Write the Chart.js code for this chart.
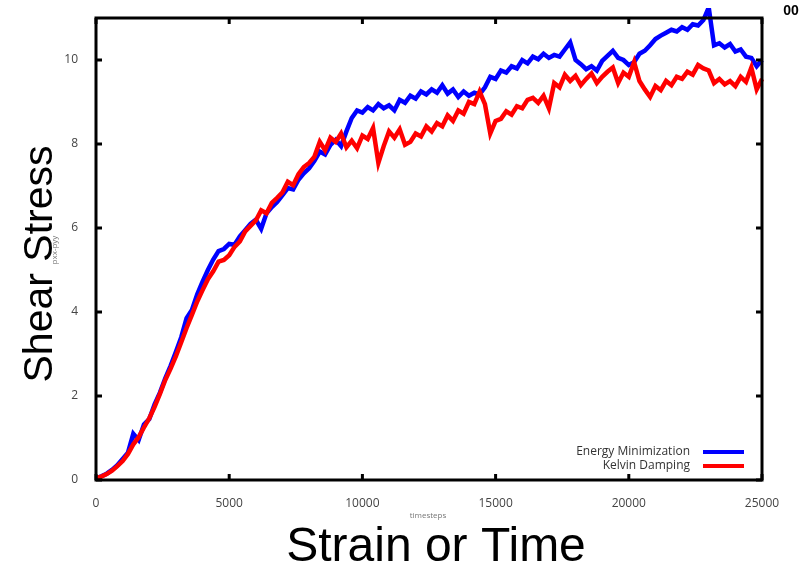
<!DOCTYPE html>
<html>
<head>
<meta charset="utf-8">
<script src="https://cdn.jsdelivr.net/npm/chart.js@4"></script>
<style>
body{margin:0;background:#fff}
canvas{display:block}
</style>
</head>
<body>
<canvas id="chart" width="806" height="568"></canvas>
<script>
const xTicks = [0, 5000, 10000, 15000, 20000, 25000];
const yTicks = [0, 2, 4, 6, 8, 10];
const seriesNames = ['Energy Minimization', 'Kelvin Damping'];
const seriesColors = ['#0000ff', '#ff0000'];

const energyMin = [
  0.04, 0.09, 0.15, 0.24, 0.35, 0.50, 0.65, 1.10, 0.95, 1.32,
  1.45, 1.80, 2.08, 2.42, 2.72, 3.05, 3.40, 3.85, 4.05, 4.42,
  4.72, 5.00, 5.25, 5.45, 5.50, 5.62, 5.60, 5.80, 5.95, 6.10,
  6.20, 5.98, 6.35, 6.50, 6.62, 6.78, 6.95, 6.92, 7.15, 7.30,
  7.42, 7.60, 7.82, 7.75, 7.98, 8.10, 7.95, 8.30, 8.62, 8.80,
  8.75, 8.88, 8.80, 8.95, 8.85, 8.92, 8.80, 9.05, 8.98, 9.15,
  9.08, 9.25, 9.18, 9.30, 9.22, 9.40, 9.20, 9.30, 9.12, 9.25,
  9.15, 9.22, 9.18, 9.35, 9.60, 9.55, 9.75, 9.70, 9.85, 9.80,
  10.00, 9.92, 10.08, 10.02, 10.15, 10.05, 10.12, 10.08, 10.25, 10.42,
  10.00, 9.90, 9.78, 9.85, 9.75, 9.98, 10.10, 10.22, 10.05, 10.00,
  9.88, 9.95, 10.15, 10.22, 10.35, 10.50, 10.58, 10.65, 10.72, 10.68,
  10.78, 10.72, 10.85, 10.82, 10.95, 11.25, 10.35, 10.40, 10.30, 10.38,
  10.20, 10.25, 10.08, 10.05, 9.85, 10.00
];
const kelvin = [
  0.05, 0.08, 0.14, 0.22, 0.33, 0.45, 0.62, 0.85, 1.02, 1.25,
  1.47, 1.74, 2.05, 2.38, 2.65, 2.95, 3.28, 3.62, 3.93, 4.25,
  4.52, 4.78, 4.97, 5.20, 5.24, 5.35, 5.55, 5.68, 5.92, 6.05,
  6.18, 6.42, 6.35, 6.60, 6.72, 6.85, 7.10, 7.02, 7.28, 7.45,
  7.55, 7.70, 8.05, 7.85, 8.15, 8.05, 8.25, 7.92, 8.08, 7.90,
  8.20, 8.12, 8.38, 7.55, 7.95, 8.30, 8.15, 8.35, 7.98, 8.05,
  8.25, 8.18, 8.42, 8.30, 8.50, 8.42, 8.68, 8.55, 8.80, 8.72,
  9.00, 8.95, 9.25, 8.95, 8.25, 8.55, 8.60, 8.78, 8.70, 8.90,
  8.85, 9.05, 9.10, 8.98, 9.15, 8.85, 9.45, 9.35, 9.65, 9.50,
  9.62, 9.40, 9.55, 9.68, 9.45, 9.60, 9.72, 9.82, 9.45, 9.70,
  9.60, 9.95, 9.50, 9.30, 9.12, 9.38, 9.28, 9.50, 9.40, 9.60,
  9.55, 9.72, 9.65, 9.88, 9.80, 9.75, 9.45, 9.55, 9.42, 9.50,
  9.38, 9.60, 9.48, 9.82, 9.30, 9.55
];
const timesteps = energyMin.map((_, i) => i * 200);

const toPoints = vals => vals.map((v, i) => ({x: timesteps[i], y: v}));

const decor = {
  id: 'decor',
  afterDatasetsDraw(chart){
    const {ctx, chartArea: a, scales: {x, y}} = chart;
    ctx.save();
    ctx.strokeStyle = '#000';
    ctx.lineWidth = 3;
    ctx.strokeRect(a.left, a.top, a.right - a.left, a.bottom - a.top);
    ctx.beginPath();
    xTicks.forEach(v => {
      const px = x.getPixelForValue(v);
      ctx.moveTo(px, a.bottom); ctx.lineTo(px, a.bottom - 6);
      ctx.moveTo(px, a.top); ctx.lineTo(px, a.top + 6);
    });
    yTicks.forEach(v => {
      const py = y.getPixelForValue(v);
      ctx.moveTo(a.left, py); ctx.lineTo(a.left + 6, py);
      ctx.moveTo(a.right, py); ctx.lineTo(a.right - 6, py);
    });
    ctx.stroke();

    // legend, inside bottom right
    ctx.font = '12px "Open Sans"';
    ctx.fillStyle = '#333';
    ctx.textAlign = 'right';
    ctx.textBaseline = 'middle';
    seriesNames.forEach((name, i) => {
      const ly = 452 + i * 14;
      ctx.fillText(name, 690, ly);
      ctx.strokeStyle = seriesColors[i];
      ctx.lineWidth = 4;
      ctx.beginPath();
      ctx.moveTo(703, ly); ctx.lineTo(744, ly);
      ctx.stroke();
    });
    ctx.restore();
  },
  afterDraw(chart){
    const {ctx} = chart;
    ctx.save();
    ctx.fillStyle = '#000';
    ctx.textAlign = 'center';
    ctx.textBaseline = 'alphabetic';
    ctx.font = '48px "Liberation Sans"';
    ctx.fillText('Strain or Time', 436, 561);

    ctx.save();
    ctx.translate(52, 264);
    ctx.rotate(-Math.PI / 2);
    ctx.font = '41px "Liberation Sans"';
    ctx.fillText('Shear Stress', 0, 0);
    ctx.restore();

    ctx.fillStyle = '#777';
    ctx.textBaseline = 'middle';
    ctx.font = '8px "Open Sans"';
    ctx.fillText('timesteps', 428, 516);
    ctx.save();
    ctx.translate(55, 250);
    ctx.rotate(-Math.PI / 2);
    ctx.fillText('pxx-pyy', 0, 0);
    ctx.restore();

    ctx.fillStyle = '#000';
    ctx.font = 'bold 14px "Liberation Sans"';
    ctx.fillText('00', 791, 11);
    ctx.restore();
  }
};

new Chart(document.getElementById('chart'), {
  type: 'line',
  data: {
    datasets: [
      {label: seriesNames[0], data: toPoints(energyMin), borderColor: seriesColors[0],
       borderWidth: 4.5, pointRadius: 0, tension: 0, order: 1, clip: 10},
      {label: seriesNames[1], data: toPoints(kelvin), borderColor: seriesColors[1],
       borderWidth: 4.5, pointRadius: 0, tension: 0, order: 0, clip: 10}
    ]
  },
  options: {
    responsive: false,
    animation: false,
    layout: {padding: {left: 0, top: 18, right: 44, bottom: 0}},
    plugins: {legend: {display: false}, tooltip: {enabled: false}},
    scales: {
      x: {
        type: 'linear', min: 0, max: 25000,
        grid: {display: false}, border: {display: false},
        afterBuildTicks: s => { s.ticks = xTicks.map(v => ({value: v})); },
        afterFit: s => { s.height = 88; },
        ticks: {color: '#444', font: {family: 'Open Sans', size: 12}, padding: 8, maxRotation: 0,
                callback: v => String(v)}
      },
      y: {
        type: 'linear', min: 0, max: 11,
        grid: {display: false}, border: {display: false},
        afterBuildTicks: s => { s.ticks = yTicks.map(v => ({value: v})); },
        afterFit: s => { s.width = 96; },
        ticks: {color: '#444', font: {family: 'Open Sans', size: 12}, padding: 10,
                callback: v => String(v)}
      }
    }
  },
  plugins: [decor]
});
</script>
</body>
</html>
